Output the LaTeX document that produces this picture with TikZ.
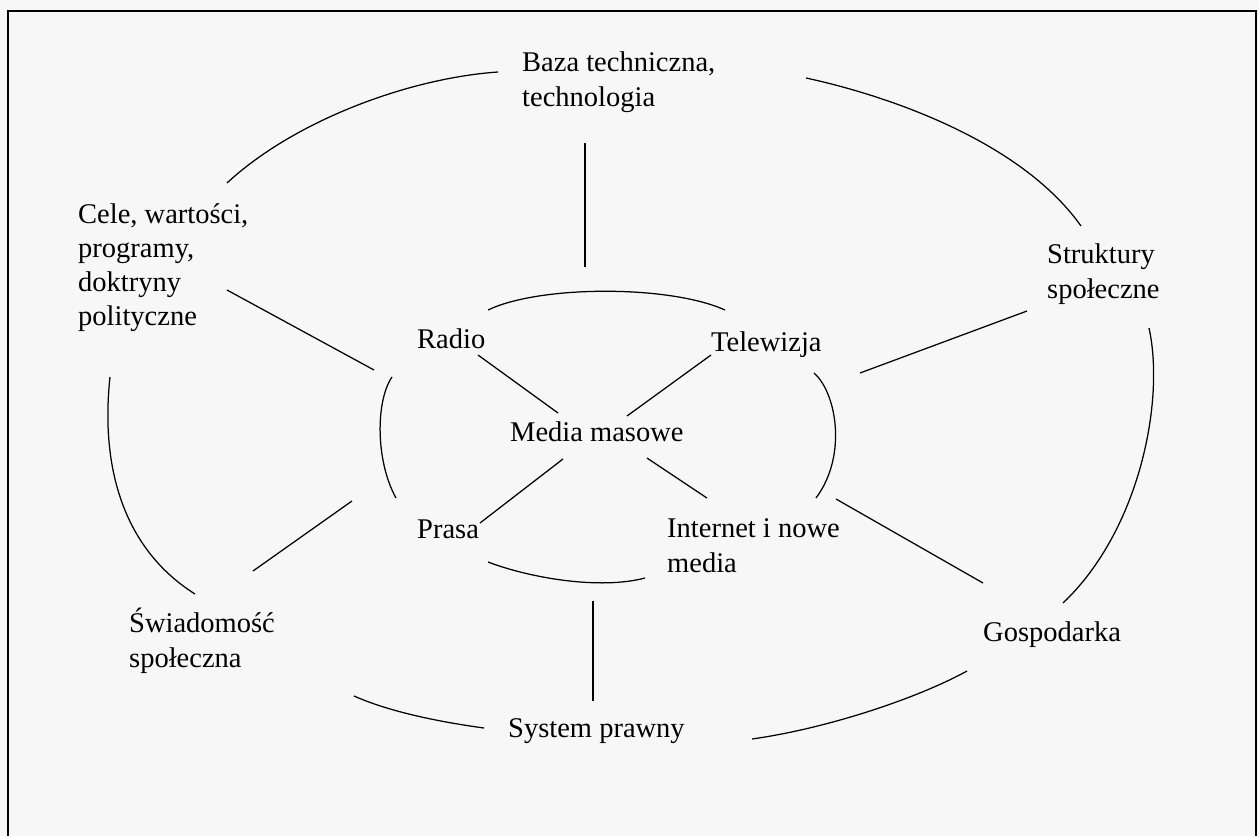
\documentclass[tikz,border=0pt]{standalone}
\usepackage{fontspec}
\setmainfont{Liberation Serif}
\begin{document}
\begin{tikzpicture}[x=1pt,y=-1pt,
  lbl/.style={anchor=base west, inner sep=0pt, font=\fontsize{28.5}{35}\selectfont, align=left},
  ln/.style={line width=1.25pt, black},
  frame/.style={line width=1.5pt, black}]
\useasboundingbox (0,0) rectangle (1259,836);
\fill[black!3] (0,0) rectangle (1259,836);
\draw[frame] (8,836) -- (8,11) -- (1256,11) -- (1256,836);
\draw[line width=2.4pt] (8,11) -- (1256,11);

% labels (base anchor = baseline of the last line)
\node[lbl] (baza) at (522,106) {Baza techniczna,\\technologia};
\node[lbl, font=\fontsize{28.5}{34}\selectfont] (cele) at (78,325) {Cele, wartości,\\programy,\\doktryny\\polityczne};
\node[lbl] (strukt) at (1047,298) {Struktury\\społeczne};
\node[lbl] (radio) at (417,348) {Radio};
\node[lbl] (tv) at (711,351) {Telewizja};
\node[lbl] (media) at (510,441) {Media masowe};
\node[lbl] (prasa) at (417,538) {Prasa};
\node[lbl] (internet) at (667,572) {Internet i nowe\\media};
\node[lbl] (swiad) at (129,667) {Świadomość\\społeczna};
\node[lbl] (gosp) at (983,641) {Gospodarka};
\node[lbl] (system) at (508,737) {System prawny};

% connector end points
\coordinate (celeA) at (227,183);
\coordinate (bazaA) at (498,72);
\coordinate (bazaB) at (806,78);
\coordinate (struktA) at (1081,226);
\coordinate (struktB) at (1149,328);
\coordinate (gospA) at (1063,603);
\coordinate (gospB) at (967,671);
\coordinate (systemA) at (752,739);
\coordinate (systemB) at (484,728);
\coordinate (swiadA) at (354,696);
\coordinate (swiadB) at (195,594);
\coordinate (celeB) at (110,377);

\coordinate (radioA) at (488,310);
\coordinate (tvA) at (725,310);
\coordinate (tvB) at (814,373);
\coordinate (internetA) at (816,498);
\coordinate (internetB) at (645,578);
\coordinate (prasaA) at (488,562);
\coordinate (prasaB) at (396,498);
\coordinate (radioB) at (392,377);

\coordinate (bazaC) at (585,143);
\coordinate (ringTop) at (585,267);
\coordinate (celeC) at (227,290);
\coordinate (ringTL) at (374,370);
\coordinate (radioC) at (478,355);
\coordinate (mediaTL) at (558,413);
\coordinate (tvC) at (711,355);
\coordinate (mediaTR) at (627,416);
\coordinate (struktC) at (1027,311);
\coordinate (ringTR) at (860,373);
\coordinate (mediaBL) at (563,459);
\coordinate (prasaC) at (480,523);
\coordinate (mediaBR) at (647,458);
\coordinate (internetC) at (707,498);
\coordinate (ringBL) at (352,501);
\coordinate (swiadC) at (253,571);
\coordinate (ringBR) at (836,499);
\coordinate (gospC) at (983,583);
\coordinate (ringBot) at (593,601);
\coordinate (systemC) at (593,701);

% outer ring
\draw[ln] (celeA) .. controls (295,120) and (410,78) .. (bazaA);
\draw[ln] (bazaB) .. controls (885,95) and (1020,140) .. (struktA);
\draw[ln] (struktB) .. controls (1165,400) and (1140,530) .. (gospA);
\draw[ln] (gospB) .. controls (920,697) and (830,728) .. (systemA);
\draw[ln] (systemB) .. controls (440,722) and (390,712) .. (swiadA);
\draw[ln] (swiadB) .. controls (125,550) and (100,470) .. (celeB);

% inner ring
\draw[ln] (radioA) .. controls (540,285) and (670,285) .. (tvA);
\draw[ln] (tvB) .. controls (836,392) and (848,455) .. (internetA);
\draw[ln] (internetB) .. controls (600,590) and (530,578) .. (prasaA);
\draw[ln] (prasaB) .. controls (375,460) and (376,400) .. (radioB);

% spokes
\draw[ln] (bazaC) -- (ringTop);
\draw[ln] (celeC) -- (ringTL);
\draw[ln] (radioC) -- (mediaTL);
\draw[ln] (tvC) -- (mediaTR);
\draw[ln] (struktC) -- (ringTR);
\draw[ln] (mediaBL) -- (prasaC);
\draw[ln] (mediaBR) -- (internetC);
\draw[ln] (ringBL) -- (swiadC);
\draw[ln] (ringBR) -- (gospC);
\draw[ln] (ringBot) -- (systemC);
\end{tikzpicture}
\end{document}
